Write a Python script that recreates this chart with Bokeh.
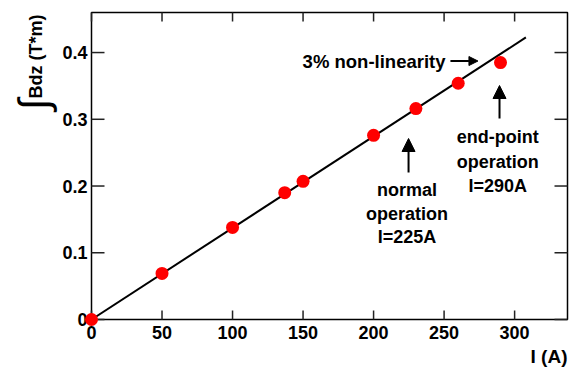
import math
from bokeh.plotting import figure
from bokeh.models import Range1d, Arrow, NormalHead
from bokeh.core.properties import value
from bokeh.embed import file_html
from bokeh.resources import INLINE

# ---- data ----
current = [0, 50, 100, 137, 150, 200, 230, 260, 290]
field_integral = [0.0, 0.069, 0.138, 0.190, 0.207, 0.276, 0.316, 0.354, 0.385]
fit_current = [0, 308]
fit_field = [0.0, 0.4226]
x_ticks = [0, 50, 100, 150, 200, 250, 300]
x_tick_labels = ["0", "50", "100", "150", "200", "250", "300"]
y_ticks = [0, 0.1, 0.2, 0.3, 0.4]
y_tick_labels = ["0", "0.1", "0.2", "0.3", "0.4"]

FONT = "Liberation Sans"
XMAX, YMAX = 337.5, 0.46
FRAME_W, FRAME_H = 476, 307

p = figure(width=572, height=370, output_backend="svg", toolbar_location=None,
           x_range=Range1d(0, XMAX), y_range=Range1d(0, YMAX),
           min_border_left=91, min_border_right=5, min_border_top=12,
           min_border_bottom=51)
p.background_fill_color = "white"
p.border_fill_color = "white"
p.outline_line_color = "black"
p.outline_line_width = 1.5
p.grid.visible = False
p.axis.visible = False

px_per_x = FRAME_W / XMAX
px_per_y = FRAME_H / YMAX
nx, ny = len(x_ticks), len(y_ticks)
TICK = dict(line_color="#222222", line_width=1.5, level="overlay")

# inward ticks on all four frame edges (x ticks 9 px, y ticks 13 px long)
p.segment(x0=x_ticks, y0=[0] * nx, x1=x_ticks, y1=[9 / px_per_y] * nx, **TICK)
p.segment(x0=x_ticks, y0=[YMAX] * nx, x1=x_ticks, y1=[YMAX - 9 / px_per_y] * nx, **TICK)
p.segment(x0=[0] * ny, y0=y_ticks, x1=[13 / px_per_x] * ny, y1=y_ticks, **TICK)
p.segment(x0=[XMAX] * ny, y0=y_ticks, x1=[XMAX - 13 / px_per_x] * ny, y1=y_ticks, **TICK)

# tick labels
p.text(x=x_ticks, y=[-13 / px_per_y] * nx, text=x_tick_labels, text_font=value(FONT),
       text_font_style="bold", text_font_size="18px", text_align="center",
       text_baseline="middle", text_color="black", level="overlay")
p.text(x=[-4 / px_per_x] * ny, y=y_ticks, text=y_tick_labels, text_font=value(FONT),
       text_font_style="bold", text_font_size="18px", text_align="right",
       text_baseline="middle", text_color="black", level="overlay")

# fit line and points
p.line(fit_current, fit_field, line_color="black", line_width=2)
p.scatter(current, field_integral, size=13, fill_color="#ff0000", line_color=None,
          level="overlay")

# annotations
def txt(x, y, s, align="center", size="18px", angle=0.0, style="bold"):
    p.text(x=[x], y=[y], text=[s], text_font=value(FONT), text_font_style=style,
           text_font_size=size, text_align=align, text_baseline="middle",
           text_color="black", angle=angle, level="overlay")

def arrow(x0, y0, x1, y1, size):
    p.add_layout(Arrow(x_start=x0, y_start=y0, x_end=x1, y_end=y1, line_width=2,
                       end=NormalHead(size=size, fill_color="black", line_color="black")))

txt(251, 0.3873, "3% non-linearity", align="right", size="18.5px")
arrow(254.5, 0.3873, 274, 0.3873, 9)

for s, y in zip(["normal", "operation", "I=225A"], [0.1940, 0.1588, 0.1236]):
    txt(223.7, y, s)
arrow(224.8, 0.2203, 224.8, 0.2712, 13)

for s, y in zip(["end-point", "operation", "I=290A"], [0.2742, 0.2367, 0.1993]):
    txt(288, y, s)
arrow(289.3, 0.3012, 289.3, 0.3506, 13)

# axis titles, placed outside the frame in data coordinates (kept inside the canvas)
txt(XMAX, -0.0554, "I (A)", align="right", size="19px")
txt(-39.4, 0.394, "Bdz (T*m)", angle=math.pi / 2)
txt(-41.1, 0.322, "\u222b", size="42px", angle=math.pi / 2, style="normal")

open("out.html", "w").write(file_html(p, INLINE))
